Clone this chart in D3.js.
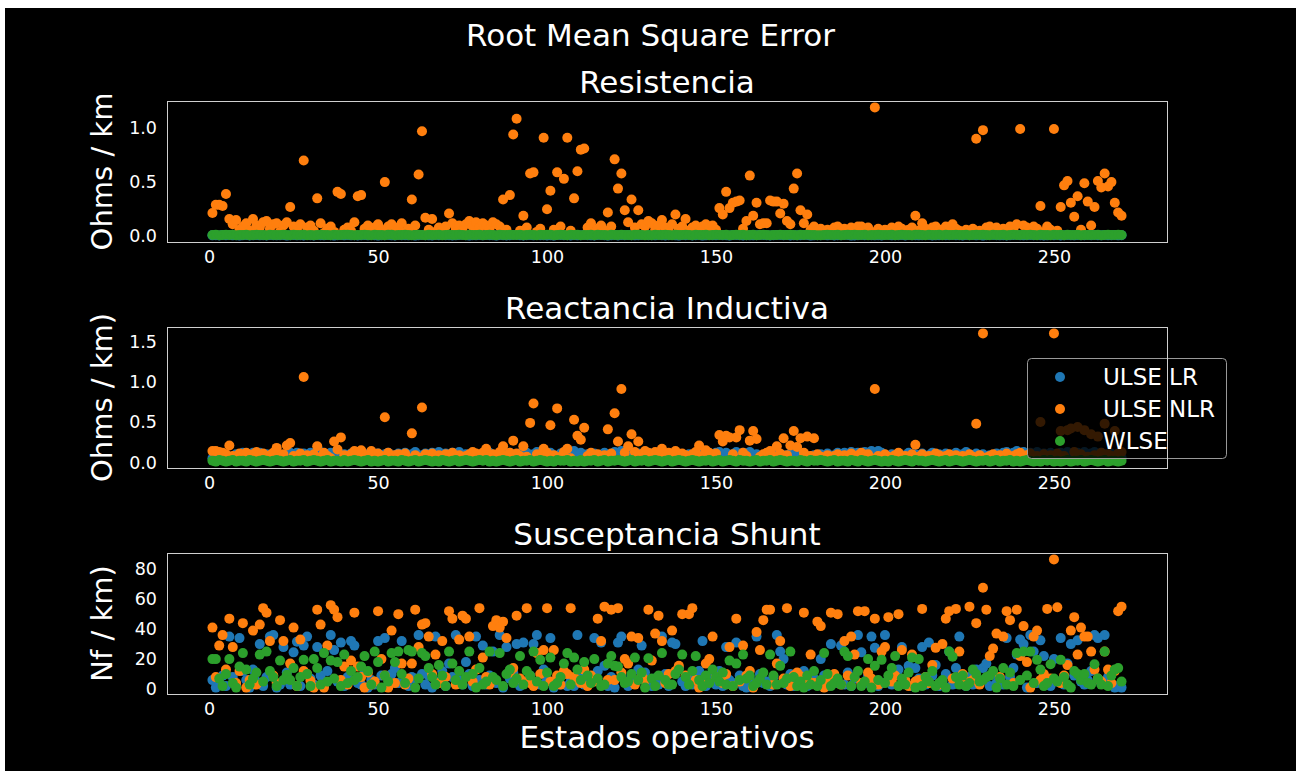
<!DOCTYPE html>
<html>
<head>
<meta charset="utf-8">
<script src="https://cdn.jsdelivr.net/npm/d3@7"></script>
<style>
  body { margin: 0; background: #fff; }
  text { font-family: "DejaVu Sans", sans-serif; fill: #fff; }
</style>
</head>
<body>
<div class="chart"></div>
<script>
// --- data (x = 1..270) ---
var seriesNames = ["ULSE LR", "ULSE NLR", "WLSE"];
var xTicks = [0, 50, 100, 150, 200, 250];

// Resistencia
var b1 = [
  0.008,0.010,0.007,0.011,0.009,0.012,0.008,0.010,0.006,0.009,
  0.011,0.007,0.009,0.012,0.008,0.010,0.007,0.011,0.009,0.008,
  0.010,0.012,0.006,0.009,0.011,0.008,0.010,0.007,0.012,0.009,
  0.007,0.011,0.009,0.008,0.012,0.010,0.006,0.009,0.011,0.008,
  0.012,0.008,0.010,0.007,0.009,0.011,0.008,0.012,0.010,0.006,
  0.009,0.010,0.012,0.008,0.007,0.011,0.009,0.010,0.008,0.012,
  0.006,0.009,0.011,0.010,0.008,0.007,0.012,0.009,0.011,0.010,
  0.010,0.007,0.008,0.012,0.011,0.009,0.006,0.010,0.008,0.011,
  0.008,0.012,0.010,0.009,0.006,0.011,0.010,0.007,0.009,0.012,
  0.011,0.009,0.007,0.010,0.012,0.008,0.011,0.009,0.010,0.007,
  0.009,0.006,0.012,0.011,0.010,0.009,0.007,0.012,0.008,0.010,
  0.012,0.010,0.008,0.007,0.011,0.012,0.009,0.006,0.010,0.011,
  0.007,0.011,0.010,0.012,0.009,0.008,0.010,0.011,0.012,0.009,
  0.010,0.008,0.011,0.009,0.007,0.010,0.012,0.008,0.006,0.011,
  0.009,0.012,0.007,0.010,0.011,0.006,0.008,0.012,0.010,0.009,
  0.011,0.010,0.009,0.006,0.012,0.011,0.010,0.007,0.009,0.008,
  0.008,0.009,0.012,0.011,0.010,0.007,0.009,0.011,0.012,0.010,
  0.012,0.007,0.010,0.008,0.009,0.012,0.011,0.006,0.008,0.010,
  0.010,0.011,0.008,0.012,0.007,0.009,0.010,0.012,0.011,0.006,
  0.007,0.010,0.012,0.009,0.011,0.010,0.008,0.009,0.007,0.012,
  0.011,0.008,0.009,0.010,0.012,0.007,0.011,0.010,0.009,0.008,
  0.009,0.012,0.011,0.007,0.008,0.010,0.012,0.009,0.010,0.011,
  0.010,0.009,0.007,0.011,0.010,0.012,0.008,0.011,0.006,0.009,
  0.012,0.011,0.010,0.008,0.009,0.007,0.010,0.012,0.011,0.010,
  0.008,0.010,0.012,0.009,0.011,0.010,0.007,0.008,0.012,0.009,
  0.011,0.007,0.009,0.012,0.010,0.008,0.011,0.009,0.010,0.012,
  0.009,0.011,0.010,0.008,0.012,0.009,0.010,0.011,0.008,0.010
];
var o1 = [
  0.215,0.29,0.29,0.28,0.39,0.16,0.11,0.15,0.06,0.09,
  0.12,0.05,0.16,0.10,0.08,0.13,0.14,0.07,0.11,0.12,
  0.04,0.10,0.13,0.27,0.09,0.06,0.11,0.70,0.08,0.10,
  0.05,0.35,0.12,0.03,0.07,0.09,0.04,0.41,0.39,0.06,
  0.08,0.05,0.13,0.37,0.38,0.07,0.10,0.04,0.08,0.11,
  0.06,0.50,0.09,0.11,0.05,0.08,0.12,0.04,0.07,0.34,
  0.10,0.57,0.97,0.17,0.06,0.16,0.04,0.08,0.05,0.09,
  0.21,0.12,0.07,0.10,0.05,0.11,0.14,0.09,0.13,0.08,
  0.12,0.10,0.07,0.13,0.11,0.09,0.34,0.06,0.38,0.94,
  1.085,0.05,0.19,0.08,0.58,0.59,0.04,0.07,0.91,0.25,
  0.42,0.06,0.59,0.09,0.53,0.91,0.05,0.35,0.60,0.80,
  0.81,0.08,0.12,0.04,0.07,0.10,0.05,0.22,0.09,0.71,
  0.44,0.58,0.24,0.13,0.34,0.08,0.24,0.11,0.09,0.14,
  0.12,0.06,0.10,0.15,0.08,0.05,0.11,0.20,0.07,0.09,
  0.16,0.05,0.08,0.10,0.04,0.09,0.11,0.07,0.10,0.06,
  0.26,0.20,0.41,0.26,0.31,0.32,0.33,0.07,0.14,0.56,
  0.19,0.31,0.11,0.12,0.12,0.33,0.32,0.32,0.21,0.30,
  0.14,0.11,0.44,0.58,0.24,0.12,0.20,0.06,0.09,0.05,
  0.07,0.03,0.06,0.04,0.08,0.09,0.05,0.07,0.03,0.08,
  0.06,0.09,0.09,0.05,0.08,0.04,1.19,0.07,0.03,0.06,
  0.05,0.08,0.04,0.09,0.07,0.03,0.06,0.08,0.19,0.05,
  0.12,0.07,0.04,0.08,0.09,0.06,0.05,0.09,0.08,0.11,
  0.07,0.05,0.03,0.06,0.04,0.07,0.90,0.05,0.98,0.08,
  0.09,0.06,0.08,0.04,0.07,0.05,0.09,0.06,0.11,0.99,
  0.10,0.08,0.05,0.09,0.07,0.28,0.04,0.09,0.06,0.99,
  0.05,0.27,0.47,0.51,0.31,0.18,0.37,0.06,0.49,0.32,
  0.10,0.27,0.51,0.45,0.58,0.46,0.50,0.31,0.22,0.19
];
var g1 = [
  0.011,0.013,0.010,0.012,0.014,0.011,0.013,0.010,0.012,0.011,
  0.013,0.010,0.012,0.014,0.011,0.012,0.010,0.013,0.011,0.012,
  0.012,0.014,0.011,0.010,0.013,0.012,0.011,0.014,0.010,0.012,
  0.010,0.012,0.013,0.011,0.012,0.010,0.014,0.012,0.011,0.013,
  0.013,0.011,0.010,0.012,0.011,0.013,0.012,0.010,0.014,0.011,
  0.012,0.010,0.014,0.013,0.010,0.012,0.011,0.013,0.012,0.010,
  0.011,0.013,0.012,0.010,0.014,0.011,0.012,0.013,0.010,0.012,
  0.014,0.012,0.011,0.013,0.012,0.010,0.013,0.011,0.012,0.014,
  0.010,0.011,0.013,0.012,0.010,0.014,0.011,0.012,0.013,0.011,
  0.012,0.014,0.010,0.011,0.013,0.012,0.010,0.014,0.011,0.013,
  0.013,0.010,0.012,0.014,0.011,0.010,0.013,0.012,0.014,0.010,
  0.011,0.012,0.014,0.010,0.013,0.011,0.012,0.010,0.013,0.012,
  0.012,0.013,0.011,0.012,0.010,0.014,0.013,0.011,0.010,0.012,
  0.010,0.014,0.012,0.011,0.013,0.012,0.010,0.013,0.012,0.011,
  0.013,0.011,0.010,0.014,0.012,0.011,0.014,0.010,0.012,0.013,
  0.011,0.012,0.013,0.010,0.011,0.013,0.012,0.014,0.010,0.012,
  0.014,0.010,0.012,0.013,0.012,0.010,0.011,0.012,0.013,0.011,
  0.012,0.013,0.011,0.010,0.014,0.012,0.013,0.011,0.012,0.010,
  0.010,0.012,0.014,0.012,0.011,0.013,0.010,0.012,0.014,0.011,
  0.013,0.011,0.012,0.014,0.010,0.011,0.012,0.013,0.011,0.012,
  0.011,0.014,0.010,0.012,0.013,0.012,0.011,0.010,0.013,0.014,
  0.012,0.010,0.013,0.011,0.012,0.014,0.010,0.013,0.012,0.011,
  0.014,0.012,0.011,0.013,0.010,0.012,0.013,0.011,0.014,0.012,
  0.010,0.013,0.012,0.011,0.014,0.010,0.012,0.013,0.011,0.012,
  0.013,0.011,0.014,0.012,0.010,0.013,0.011,0.012,0.010,0.013,
  0.012,0.013,0.010,0.014,0.012,0.011,0.013,0.010,0.012,0.011,
  0.011,0.012,0.013,0.010,0.012,0.014,0.011,0.012,0.013,0.012
];

// Reactancia Inductiva
var b2 = [
  0.05,0.04,0.08,0.06,0.09,0.07,0.05,0.10,0.08,0.12,
  0.11,0.06,0.12,0.09,0.12,0.07,0.10,0.05,0.08,0.11,
  0.06,0.09,0.07,0.12,0.10,0.12,0.08,0.11,0.06,0.12,
  0.09,0.07,0.13,0.10,0.08,0.12,0.11,0.06,0.09,0.10,
  0.07,0.11,0.05,0.12,0.09,0.06,0.10,0.13,0.08,0.11,
  0.07,0.10,0.12,0.06,0.09,0.11,0.08,0.12,0.05,0.10,
  0.13,0.07,0.09,0.11,0.06,0.12,0.10,0.13,0.08,0.11,
  0.09,0.12,0.06,0.13,0.08,0.10,0.07,0.11,0.09,0.05,
  0.10,0.08,0.12,0.06,0.09,0.11,0.07,0.10,0.12,0.08,
  0.06,0.11,0.09,0.12,0.07,0.10,0.13,0.08,0.11,0.06,
  0.12,0.09,0.07,0.11,0.08,0.10,0.06,0.14,0.09,0.12,
  0.07,0.10,0.08,0.11,0.06,0.09,0.12,0.07,0.10,0.13,
  0.12,0.14,0.08,0.10,0.06,0.09,0.11,0.07,0.10,0.08,
  0.11,0.06,0.09,0.12,0.08,0.10,0.07,0.11,0.05,0.09,
  0.06,0.10,0.08,0.07,0.11,0.09,0.06,0.10,0.08,0.12,
  0.13,0.09,0.12,0.07,0.10,0.13,0.08,0.12,0.11,0.13,
  0.07,0.10,0.06,0.09,0.08,0.11,0.07,0.10,0.06,0.09,
  0.08,0.11,0.06,0.09,0.07,0.10,0.08,0.06,0.09,0.07,
  0.10,0.08,0.11,0.07,0.09,0.12,0.10,0.12,0.08,0.13,
  0.11,0.12,0.09,0.13,0.12,0.14,0.10,0.14,0.12,0.09,
  0.07,0.10,0.08,0.11,0.06,0.09,0.12,0.07,0.10,0.08,
  0.11,0.06,0.09,0.12,0.07,0.10,0.08,0.11,0.06,0.09,
  0.12,0.08,0.10,0.13,0.07,0.09,0.11,0.06,0.10,0.08,
  0.09,0.07,0.11,0.08,0.12,0.13,0.10,0.12,0.14,0.11,
  0.13,0.09,0.12,0.10,0.13,0.08,0.11,0.09,0.12,0.10,
  0.08,0.12,0.10,0.13,0.09,0.11,0.12,0.08,0.13,0.10,
  0.11,0.13,0.09,0.12,0.10,0.08,0.11,0.07,0.09,0.06
];
var o2 = [
  0.14,0.14,0.13,0.12,0.10,0.21,0.08,0.06,0.11,0.09,
  0.12,0.07,0.10,0.13,0.08,0.11,0.06,0.09,0.12,0.18,
  0.07,0.10,0.21,0.24,0.08,0.05,0.11,1.06,0.09,0.07,
  0.10,0.20,0.06,0.12,0.08,0.05,0.26,0.16,0.31,0.09,
  0.06,0.10,0.14,0.13,0.15,0.07,0.09,0.14,0.05,0.11,
  0.08,0.56,0.12,0.06,0.09,0.10,0.07,0.11,0.05,0.36,
  0.09,0.06,0.68,0.10,0.07,0.11,0.05,0.09,0.08,0.10,
  0.06,0.12,0.07,0.09,0.05,0.08,0.10,0.13,0.11,0.07,
  0.12,0.17,0.08,0.10,0.06,0.13,0.20,0.09,0.12,0.27,
  0.11,0.08,0.20,0.07,0.49,0.73,0.10,0.06,0.17,0.12,
  0.46,0.09,0.67,0.07,0.13,0.17,0.05,0.53,0.33,0.28,
  0.43,0.08,0.12,0.06,0.10,0.05,0.09,0.41,0.11,0.61,
  0.26,0.91,0.12,0.20,0.35,0.13,0.26,0.10,0.14,0.12,
  0.09,0.13,0.11,0.17,0.08,0.12,0.10,0.14,0.07,0.11,
  0.09,0.06,0.10,0.13,0.21,0.08,0.15,0.12,0.09,0.11,
  0.34,0.26,0.33,0.31,0.10,0.31,0.40,0.12,0.08,0.27,
  0.39,0.29,0.07,0.10,0.12,0.14,0.08,0.20,0.11,0.30,
  0.09,0.21,0.39,0.19,0.30,0.12,0.32,0.08,0.30,0.10,
  0.07,0.05,0.09,0.06,0.08,0.10,0.05,0.09,0.07,0.11,
  0.06,0.09,0.12,0.07,0.10,0.05,0.91,0.08,0.06,0.10,
  0.07,0.05,0.09,0.12,0.06,0.08,0.05,0.10,0.22,0.07,
  0.10,0.06,0.08,0.05,0.11,0.09,0.06,0.08,0.10,0.07,
  0.09,0.05,0.08,0.06,0.10,0.07,0.48,0.09,1.60,0.06,
  0.08,0.10,0.05,0.09,0.07,0.11,0.06,0.08,0.10,0.12,
  0.07,0.09,0.11,0.06,0.08,0.50,0.10,0.07,0.09,1.60,
  0.11,0.39,0.08,0.40,0.42,0.13,0.44,0.10,0.40,0.07,
  0.35,0.09,0.32,0.12,0.48,0.10,0.08,0.39,0.11,0.13
];
var g2 = [
  0.02,0.01,0.03,0.02,0.01,0.02,0.03,0.01,0.02,0.02,
  0.01,0.03,0.02,0.01,0.02,0.03,0.02,0.01,0.02,0.03,
  0.02,0.01,0.02,0.03,0.01,0.02,0.02,0.03,0.01,0.02,
  0.03,0.02,0.01,0.02,0.03,0.01,0.02,0.02,0.01,0.03,
  0.01,0.02,0.03,0.02,0.01,0.02,0.03,0.01,0.02,0.01,
  0.02,0.03,0.01,0.02,0.02,0.01,0.03,0.02,0.01,0.02,
  0.03,0.01,0.02,0.03,0.02,0.01,0.02,0.01,0.03,0.02,
  0.01,0.02,0.03,0.01,0.02,0.03,0.02,0.01,0.02,0.03,
  0.02,0.03,0.01,0.02,0.01,0.02,0.03,0.02,0.01,0.02,
  0.03,0.01,0.02,0.02,0.03,0.01,0.02,0.03,0.02,0.01,
  0.02,0.01,0.03,0.02,0.02,0.03,0.01,0.02,0.01,0.03,
  0.01,0.02,0.02,0.03,0.01,0.02,0.03,0.01,0.02,0.02,
  0.03,0.02,0.01,0.02,0.03,0.01,0.02,0.02,0.03,0.01,
  0.02,0.03,0.02,0.01,0.02,0.03,0.01,0.02,0.03,0.02,
  0.01,0.02,0.03,0.02,0.01,0.02,0.02,0.03,0.01,0.02,
  0.03,0.01,0.02,0.03,0.02,0.01,0.03,0.02,0.02,0.01,
  0.02,0.03,0.01,0.02,0.02,0.03,0.01,0.02,0.03,0.02,
  0.01,0.02,0.02,0.01,0.03,0.02,0.01,0.03,0.02,0.02,
  0.03,0.02,0.01,0.02,0.03,0.01,0.02,0.02,0.01,0.03,
  0.02,0.01,0.03,0.02,0.01,0.02,0.03,0.02,0.01,0.02,
  0.01,0.03,0.02,0.01,0.02,0.03,0.02,0.01,0.03,0.02,
  0.02,0.01,0.02,0.03,0.02,0.01,0.02,0.03,0.01,0.02,
  0.03,0.02,0.01,0.02,0.03,0.02,0.01,0.02,0.02,0.03,
  0.01,0.02,0.03,0.01,0.02,0.02,0.03,0.01,0.02,0.01,
  0.02,0.03,0.02,0.01,0.02,0.01,0.03,0.02,0.03,0.01,
  0.02,0.01,0.02,0.03,0.01,0.02,0.02,0.03,0.01,0.02,
  0.03,0.02,0.01,0.02,0.03,0.01,0.02,0.02,0.01,0.02
];

// Susceptancia Shunt
var b3 = [
  6,1,4,9,2,35,8,3,34,12,
  6,1,13,5,30,2,8,35,36,1,
  3,28,11,3,24.5,31.6,2,29,35,7,
  3,28,9,2,12,36,26,5,31,2,
  8,32,29,4,3,11,1,6,3,32,
  9,34,2,10,14,4,32,5,2,8,
  7,36,10,3,9,1,35,5,12,2,
  17,8,36,6,3,18,10,2,35,6,
  29,3,9,25,4,36,1,28,7,11,
  30,2,31,5,9,30,36,3,13,6,
  34,1,8,3,10,2,5,2,36,9,
  3,4,7,34,12,31,15.5,2,8,1,
  31,35,5,2,9,4,13,29,11,4,
  2,7,3,35,10,2,31,30,14,5,
  2,8,3,6,12,32,2,7,10,3,
  12,2,28,6,4,31,9,2,1,7,
  3,35,10,4,5,2,8,36,25,20,
  3,10,2,6,3,12,2,4,7,3,
  20,9,2,30,6,4,29,3,11,2,
  7,36,24.5,4,9,35,27.5,2,4,36,
  6,3,10,13,28,4,15.5,2,14,7,
  28,3,31,9,16,2,5,10,25,3,
  14,35,6,2,8,3,13,5,14,17,
  2,10,4,6,3,34,8,14,23,33,
  30,1,36,25,4,32.5,22,7,2,20,
  5,34,3,17,30,9,32.5,5,3,6,
  12,36,34,4,36,8,3,1,2,1
];
var o3 = [
  41,8,29,36,13,47,28,4,12,44,
  1,6,39,3,43,54,51,32,9,4,
  46,32,7,17,41,2,33,12,10,5.5,
  1,53,43,1,29,56,53,48,6,15,
  3,19,51,15,8,1,11,3,5,52,
  20,9,1,39,4,50,17,3,7,17,
  53,28,43,44,35,10,23,4,32,8,
  52,47,3,33,49,47,35,5,13,54,
  21,8,3,42,46,41,45,34,11,14,
  49,7,5,54,4,2,24,10,26,54,
  5,26,9,3,12,10,54,8,6,4,
  13,2,9,5,47,32,55,6,53,6,
  54,11,20,17,35,3,34,9,6,53,
  19,37,49,32,4,10,39,12,15.5,50,
  9,50,54,6,1,3,17,20,35,8,
  6,4,10,28,2,47,5,29,9,12,
  1,38,26,46,53,53,3,17,32,7,
  54,2,9,11,8.5,51,7,23,4,45,
  42,1,6,51,10,50,3,32,9,35,
  23,52,4,52,11,7,47,3,25,28,
  48,5,9,50,26,6,2,23,5,6,
  53.5,8,4,16,27.5,3,30,47,52,7,
  53.5,25,10,5,55,6,44,3,67.6,53,
  22,27,37,8,35,52,46,4,53,22,
  42,18,1,35,39,6,10,53.5,7,86.5,
  54.6,4,9,16,39,48,23,41,35,35,
  25,13,7,5,25,13,4,12,52,55
];
var g3 = [
  20,20,7,2,10,20,4,1,15,24,
  13,3,7,11,23,5,25,12,8,2,
  19,6,9.5,6,14,2,8,19.5,10,2,
  20,14,3,24,5,19,7,18,2,23,
  4,12,6,8,15,22,12,3,25,18,
  1,9,5,24,18,25,10,4,26,25,
  1,7,24,22,14,8,3,16,9,2,
  25,17,6,12,3,8,25,10,1,14,
  3,5,25,8,6,24,2,10,13,4,
  7,22,3,12,9,25,5,19.5,2,11,
  21,2,4,8,17,24,3,21,13,6,
  18,9,4,20,7,2,3,17,22,15.5,
  15,8,4,5,10,21,6,11,1,20.5,
  7,2,9,24,6,3,3,10,13,23,
  8,3,12,22,6,2,9,4,13,8,
  5,11,3,19,2,17,6,23,7,9,
  2,4,7,11,3,23,9,3,15.5,4,
  7,25,8,2,5,1,9,3,12,2,
  6,24,10,2,4,7,3,25,22,2,
  8,12,2,5,20,1,15.5,6,19.5,4,
  9,14,22,2,7,3,11,21,1,20,
  2,8,5,12,2,4,6,1,25,21.6,
  8,3,9,2,4,13,10,5,6,8,
  9,12,1,7,14,3,11,2,24,6,
  25,9,25,4,19.5,13,2,4,16.6,7,
  5,19.5,8,3,1,12,10,6,10,4,
  3,16.6,7,3,25,2,9,13,14,5
];

var colors = ["#1f77b4", "#ff7f0e", "#2ca02c"];

var panels = [
  {title: "Resistencia", ylabel: "Ohms / km", series: [b1, o1, g1], yTicks: [0, 0.5, 1.0], fmt: ".1f"},
  {title: "Reactancia Inductiva", ylabel: "Ohms / km)", series: [b2, o2, g2], yTicks: [0, 0.5, 1.0, 1.5], fmt: ".1f"},
  {title: "Susceptancia Shunt", ylabel: "Nf / km)", series: [b3, o3, g3], yTicks: [0, 20, 40, 60, 80], fmt: "d"}
];

var width = 1301, height = 772;
var plotLeft = 167, plotRight = 1167, plotH = 141;
var plotTops = [101, 327, 553];

var svg = d3.select(".chart")
  .append("svg")
  .attr("width", width)
  .attr("height", height);

// figure background (thin white border round a black figure)
svg.append("rect").attr("width", width).attr("height", height).attr("fill", "#fff");
svg.append("rect")
  .attr("x", 5).attr("y", 8)
  .attr("width", 1291).attr("height", 763)
  .attr("fill", "#000");

var n = b1.length;
var pad = (n - 1) * 0.05;
var x = d3.scaleLinear()
  .domain([1 - pad, n + pad])
  .range([plotLeft, plotRight]);

svg.append("text")
  .attr("x", 650.5).attr("y", 46)
  .attr("text-anchor", "middle")
  .style("font-size", "31px")
  .text("Root Mean Square Error");

var frames = [];

panels.forEach(function(p, i) {
  var top = plotTops[i];
  var all = d3.merge(p.series);
  var ext = d3.extent(all);
  var m = (ext[1] - ext[0]) * 0.05;
  var y = d3.scaleLinear()
    .domain([ext[0] - m, ext[1] + m])
    .range([top + plotH, top]);

  var g = svg.append("g").attr("class", "panel");

  g.append("text")
    .attr("x", (plotLeft + plotRight) / 2)
    .attr("y", top - 8)
    .attr("text-anchor", "middle")
    .style("font-size", "31px")
    .text(p.title);

  var xAxis = g.append("g")
    .attr("transform", "translate(0," + (top + plotH) + ")")
    .call(d3.axisBottom(x).tickValues(xTicks).tickSize(0).tickPadding(9));
  var yAxis = g.append("g")
    .attr("transform", "translate(" + plotLeft + ",0)")
    .call(d3.axisLeft(y).tickValues(p.yTicks).tickFormat(d3.format(p.fmt)).tickSize(0).tickPadding(10));
  [xAxis, yAxis].forEach(function(a) {
    a.select(".domain").remove();
    a.selectAll("text")
      .style("font-family", "DejaVu Sans, sans-serif")
      .style("font-size", "17.5px")
      .attr("fill", "#fff");
  });

  g.append("text")
    .attr("transform", "translate(112," + (top + plotH / 2) + ") rotate(-90)")
    .attr("text-anchor", "middle")
    .style("font-size", "29px")
    .text(p.ylabel);

  p.series.forEach(function(s, k) {
    g.append("g")
      .attr("class", "pts")
      .selectAll("circle")
      .data(s)
      .enter().append("circle")
      .attr("cx", function(d, j) { return x(j + 1); })
      .attr("cy", function(d) { return y(d); })
      .attr("r", 5)
      .attr("fill", colors[k]);
  });

  frames.push(top);
});

svg.append("text")
  .attr("x", (plotLeft + plotRight) / 2)
  .attr("y", 748)
  .attr("text-anchor", "middle")
  .style("font-size", "31px")
  .text("Estados operativos");

// legend (semi transparent, over the middle panel)
var lg = svg.append("g").attr("class", "legend");
lg.append("rect")
  .attr("x", 1027.5).attr("y", 358.5)
  .attr("width", 199).attr("height", 100)
  .attr("rx", 4)
  .attr("fill", "#000").attr("fill-opacity", 0.8)
  .attr("stroke", "#aaa").attr("stroke-opacity", 0.9);
seriesNames.forEach(function(name, k) {
  lg.append("circle")
    .attr("cx", 1060).attr("cy", 377 + k * 32)
    .attr("r", 5)
    .attr("fill", colors[k]);
  lg.append("text")
    .attr("x", 1103).attr("y", 385 + k * 32)
    .style("font-size", "23px")
    .text(name);
});

// frames on top
frames.forEach(function(top) {
  svg.append("rect")
    .attr("x", plotLeft + 0.5).attr("y", top + 0.5)
    .attr("width", plotRight - plotLeft).attr("height", plotH)
    .attr("fill", "none")
    .attr("stroke", "#d0d0d0")
    .attr("stroke-width", 1);
});
</script>
</body>
</html>
